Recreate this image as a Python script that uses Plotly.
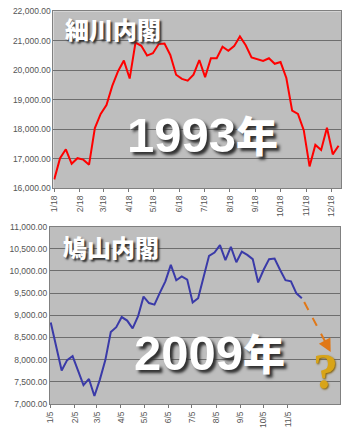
import plotly.graph_objects as go
import pandas as pd

W, H = 345, 439

# ---------------- data ----------------
dates_1993 = [d.strftime("%Y-%m-%d") for d in pd.date_range("1993-01-18", periods=50, freq="7D")]
nikkei_1993 = [16300, 17020, 17320, 16830, 17020, 16970, 16800, 18040, 18520, 18820,
               19470, 19970, 20330, 19720, 20940, 20830, 20500, 20580, 20890, 20910,
               20520, 19850, 19710, 19650, 19850, 20350, 19770, 20410, 20410, 20800,
               20660, 20820, 21150, 20850, 20440, 20380, 20320, 20410, 20220, 20280,
               19740, 18630, 18520, 17970, 16740, 17470, 17300, 18050, 17150, 17440]

dates_2009 = ["2009-01-05", "2009-01-19", "2009-01-26", "2009-02-02", "2009-02-16",
              "2009-02-23", "2009-03-02", "2009-03-09", "2009-03-16", "2009-03-23",
              "2009-03-30", "2009-04-06", "2009-04-13", "2009-04-20", "2009-04-27",
              "2009-05-04", "2009-05-11", "2009-05-18", "2009-05-25", "2009-06-01",
              "2009-06-08", "2009-06-15", "2009-06-22", "2009-06-29", "2009-07-06",
              "2009-07-13", "2009-07-20", "2009-07-27", "2009-08-03", "2009-08-10",
              "2009-08-17", "2009-08-24", "2009-08-31", "2009-09-07", "2009-09-14",
              "2009-09-21", "2009-09-28", "2009-10-05", "2009-10-12", "2009-10-19",
              "2009-10-26", "2009-11-02", "2009-11-09", "2009-11-16", "2009-11-23"]
nikkei_2009 = [8835, 7755, 7990, 8080, 7425, 7565, 7180, 7550, 7990, 8620,
               8730, 8960, 8880, 8705, 8980, 9420, 9275, 9240, 9510, 9765,
               10135, 9790, 9875, 9805, 9290, 9385, 9865, 10340, 10415, 10580,
               10245, 10540, 10195, 10435, 10360, 10265, 9740, 10025, 10265, 10280,
               10025, 9790, 9765, 9495, 9385]

ticks_1993 = ["1993-%02d-18" % m for m in range(1, 13)]
ticklabels_1993 = ["%d/18" % m for m in range(1, 13)]
ticks_2009 = ["2009-%02d-05" % m for m in range(1, 12)]
ticklabels_2009 = ["%d/5" % m for m in range(1, 12)]

arrow_start = ("2009-11-26", 9300)
arrow_mid = ("2009-12-24", 8370)
arrow_end = ("2009-12-30", 8170)

titles = ["細川内閣", "鳩山内閣"]
year_labels = ["1993", "2009"]

# ---------------- figure ----------------
def px_x(p):
    return p / W

def px_y(p):
    return 1 - p / H

fig = go.Figure()
fig.add_trace(go.Scatter(x=dates_1993, y=nikkei_1993, mode="lines",
                         line=dict(color="#FF0000", width=2), xaxis="x", yaxis="y"))
fig.add_trace(go.Scatter(x=dates_2009, y=nikkei_2009, mode="lines",
                         line=dict(color="#3A3AA8", width=2), xaxis="x2", yaxis="y2"))

tickfont = dict(family="Liberation Sans, Arial, sans-serif", size=8.5, color="#555555")
common_x = dict(type="date", showgrid=False, ticks="outside", ticklen=3, tickcolor="#777777",
                showline=True, linecolor="#808080", linewidth=1, mirror=True,
                tickangle=-90, tickfont=tickfont, zeroline=False)
common_y = dict(showgrid=True, gridcolor="#6E6E6E", gridwidth=1, ticks="",
                showline=True, linecolor="#808080", linewidth=1, mirror=True,
                tickformat=",.2f", tickfont=tickfont, zeroline=False)

fig.update_layout(
    width=W, height=H,
    margin=dict(l=0, r=0, t=0, b=0),
    paper_bgcolor="white",
    plot_bgcolor="#BEBEBE",
    showlegend=False,
    xaxis=dict(common_x, domain=[px_x(50), px_x(341)], anchor="y",
               range=["1993-01-17", "1993-12-30"],
               tickvals=ticks_1993, ticktext=ticklabels_1993),
    yaxis=dict(common_y, domain=[px_y(187.5), px_y(6.5)], anchor="x",
               range=[16000, 22000], dtick=1000),
    xaxis2=dict(common_x, domain=[px_x(46.5), px_x(340)], anchor="y2",
                range=["2009-01-04", "2010-01-11"],
                tickvals=ticks_2009, ticktext=ticklabels_2009),
    yaxis2=dict(common_y, domain=[px_y(408.3), px_y(226.7)], anchor="x2",
                range=[7000, 11000], dtick=500),
)

# dashed forecast arrow
fig.add_shape(type="line", xref="x2", yref="y2",
              x0=arrow_start[0], y0=arrow_start[1], x1=arrow_mid[0], y1=arrow_mid[1],
              line=dict(color="#E07818", width=2, dash="dash"))
fig.add_annotation(xref="x2", yref="y2", axref="x2", ayref="y2",
                   x=arrow_end[0], y=arrow_end[1], ax=arrow_mid[0], ay=arrow_mid[1],
                   text="", showarrow=True, arrowhead=2, arrowsize=1.3, arrowwidth=2,
                   arrowcolor="#E07818")

shadow = "2px 2px 2px #303030"
title_font = dict(family="Noto Sans CJK JP", size=24, color="white", weight=900, shadow=shadow)
fig.add_annotation(xref="paper", yref="paper", x=px_x(110), y=px_y(24),
                   text=titles[0], showarrow=False, font=title_font,
                   xanchor="center", yanchor="middle")
fig.add_annotation(xref="paper", yref="paper", x=px_x(108), y=px_y(247),
                   text=titles[1], showarrow=False, font=title_font,
                   xanchor="center", yanchor="middle")

year_font = dict(family="Liberation Sans, Arial, sans-serif",
                 size=49, color="white", weight="bold", shadow="3px 3px 3px #303030")
for yl, cx, cy in [(year_labels[0], 201, 131), (year_labels[1], 208, 355)]:
    fig.add_annotation(xref="paper", yref="paper", x=px_x(cx), y=px_y(cy),
                       text=yl + "<span style='font-size:42px;font-family:Noto Sans CJK JP;font-weight:900'>年</span>",
                       showarrow=False, font=year_font,
                       xanchor="center", yanchor="middle")

fig.add_annotation(xref="paper", yref="paper", x=px_x(325), y=px_y(375),
                   text="?", showarrow=False,
                   font=dict(family="Liberation Serif, DejaVu Serif, serif", size=50,
                             color="#D8A418", weight="bold", shadow="1px 1px 2px #806010"),
                   xanchor="center", yanchor="middle")

fig.write_html("out.html")
